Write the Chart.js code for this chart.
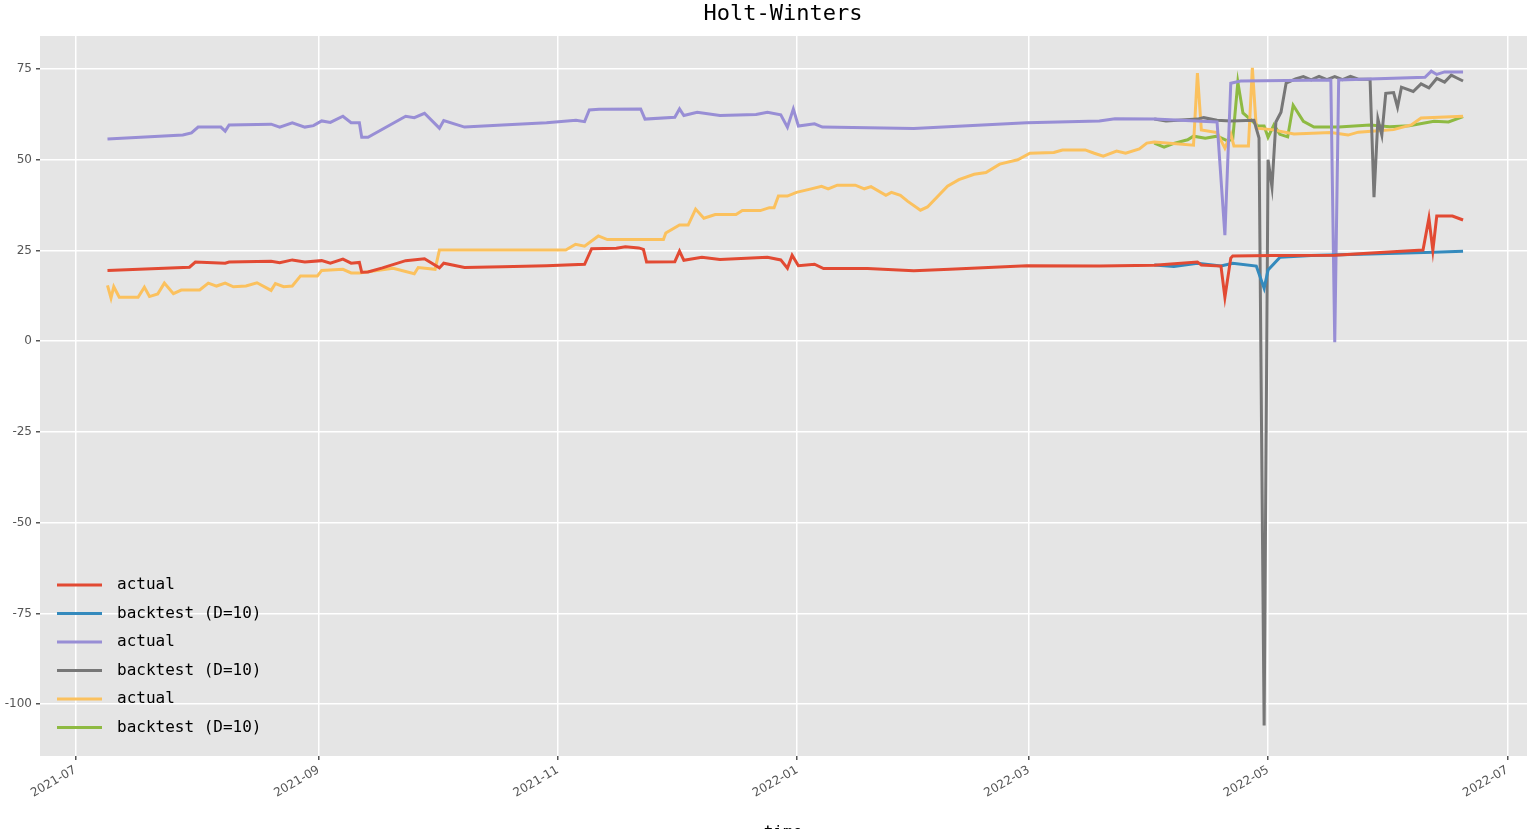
<!DOCTYPE html>
<html><head><meta charset="utf-8">
<script src="https://cdn.jsdelivr.net/npm/chart.js@4"></script>
<style>html,body{margin:0;padding:0;background:#fff}#w{width:1532px;height:829px;position:relative}</style>
</head><body><div id="w"><canvas id="c"></canvas></div>
<script>
// x values: days since 2021-07-01
const tickDays = [0, 62, 123, 184, 243, 304, 365];
const tickLabels = ['2021-07','2021-09','2021-11','2022-01','2022-03','2022-05','2022-07'];
const yTicks = [75, 50, 25, 0, -25, -50, -75, -100];

const actual1Days = [8.2,29.1,30.6,38.2,39.2,49.9,52.1,55.3,58.5,62.8,65,68.2,70.3,72.4,73,74.6,78.3,84.2,89,92.8,93.9,99.2,108.9,120.1,129.8,131.6,137.9,140.2,143.6,144.8,145.6,152.8,154,155.1,159.7,164.3,176.4,179.8,181.5,182.7,184.3,188.4,190.7,201.9,213.7,222.9,242.5,261,275,286,287,292,293,294.5,295,305,321,333.6,343.5,345,346,347,351,353.7];
const actual1 = [19.5,20.4,21.8,21.5,21.8,22,21.6,22.4,21.8,22.2,21.5,22.6,21.5,21.7,19,19.1,20.2,22.2,22.7,20.2,21.5,20.3,20.5,20.8,21.2,25.5,25.6,26,25.7,25.3,21.8,21.9,24.8,22.3,23.1,22.5,23.1,22.4,20.1,23.7,20.8,21.2,20,20,19.4,19.8,20.8,20.7,20.9,21.8,21,20.7,12.1,22.9,23.5,23.6,23.7,24.5,25.1,33.9,25,34.5,34.5,33.4];
const back1Days = [275,280,286,292,295,301,303,304,307,315,330,346,353.7];
const back1 = [21,20.6,21.5,20.7,21.5,20.7,14.6,19.6,23.1,23.6,24,24.5,24.8];

const actual2Days = [8.2,27.4,29.6,31.3,37.1,38.2,39.2,49.9,52.1,55.3,58.5,60.7,62.8,65,68.2,70.3,72.4,73,74.6,84.2,86.4,89,92.8,93.9,99.2,108.9,120.1,127.6,129.8,131,133.5,144.1,145.2,152.8,154,155.1,158.5,164.3,173.5,176.4,179.8,181.5,183,184.3,188.4,190.4,213.7,242.5,261,265,275,291,293,294.5,297,320,321,322,344,345.6,347,349,353.7];
const actual2 = [55.7,56.8,57.4,59,59,57.9,59.6,59.8,59,60.2,59,59.4,60.7,60.3,62,60.2,60.2,56.2,56.2,62,61.6,62.8,58.7,60.8,59,59.6,60.2,60.9,60.5,63.7,63.9,64,61.2,61.7,64,62.2,63.1,62.2,62.5,63.1,62.4,59,64,59.3,59.9,59,58.6,60.2,60.7,61.3,61.2,60.4,29.2,71.1,71.7,72,-0.3,72,72.7,74.4,73.5,74.2,74.2];
const back2Days = [275,278,286,287.6,291,294.5,300.4,301.7,303,304,305,306,307.3,308.6,311,313,315,317,319,321,323,325,327,330,331,332,333,334,336,337,338,341,343,345,347,349,350.7,352,353.7];
const back2 = [61.2,60.7,61.2,61.6,60.9,60.7,60.9,56,-105.9,50,42.5,60.4,63.1,71.1,72.3,72.9,72,73,72.1,72.9,72.1,73,72.2,72.2,39.7,61.2,56.8,68.3,68.5,64.5,70,68.8,70.9,69.8,72.4,71.4,73.3,72.6,71.7];

const actual3Days = [8.2,9.1,9.8,11.2,16,17.6,18.9,21,22.7,25,27,31.7,33.9,36,38.2,40.3,43.5,46.3,49.9,51,53.1,55.3,57.4,61.7,62.8,68.2,70.3,72.4,81,86.4,87.4,91.7,92.8,125,127.5,129.8,133.3,135.6,149.9,150.5,154,156.2,158.1,160.2,163.1,168.4,170,174.6,176.9,178.1,179.2,181.5,183.8,187.3,190.2,191.9,194.2,198.8,201.1,202.8,206.6,208,210.3,212.1,215.4,217.2,222.3,225.2,229.1,232.1,235.6,240.2,243.3,249.4,251.6,257.4,259.7,262,265.4,267.7,271.2,273.1,275,285,286,287,291,293,294.5,295.3,299,300,301,305,310.6,320,324.4,327,332,336,340.5,343,353.7];
const actual3 = [15.4,11.9,15,12.1,12.1,14.9,12.3,13,16,13.1,14.1,14.1,16,15.2,16,15,15.2,16.1,14,15.9,15,15.2,18,18,19.5,19.8,18.8,18.8,20.1,18.6,20.3,19.8,25.1,25.1,26.7,26.2,29,28,28,29.8,32,32,36.4,33.9,34.9,34.9,36,36,36.8,36.8,40,40,41,41.9,42.7,42,43,43,42,42.6,40.2,41,40.2,38.6,36.1,37,42.7,44.5,46,46.5,48.8,50,51.8,52,52.7,52.7,51.8,51,52.4,51.8,53,54.6,54.9,54,73.9,58.2,57.5,53.2,57.1,53.8,53.8,75.3,58.7,58.3,57.1,57.5,56.8,57.6,58,58.3,59.6,61.5,62];
const back3Days = [275,277.5,280,283.5,285,288,291,293.7,295,296.3,297.6,301.4,303,304,305.5,307,309,310.4,313,315.7,322,330,335,340,346.3,350,353.7];
const back3 = [54.6,53.5,54.5,55.5,56.5,55.9,56.5,55.2,55.7,71.4,62.9,59.3,59.3,56.2,59.6,57,56.3,65,60.6,59,59,59.6,59.1,59.4,60.6,60.4,61.9];

const mk = (d, v) => d.map((x, i) => ({x, y: v[i]}));
const series = [
  {label:'actual', d:actual1Days, v:actual1, c:'#E24A33'},
  {label:'backtest (D=10)', d:back1Days, v:back1, c:'#348ABD'},
  {label:'actual', d:actual2Days, v:actual2, c:'#988ED5'},
  {label:'backtest (D=10)', d:back2Days, v:back2, c:'#777777'},
  {label:'actual', d:actual3Days, v:actual3, c:'#FBC15E'},
  {label:'backtest (D=10)', d:back3Days, v:back3, c:'#8EBA42'},
];
const FONT = "'DejaVu Sans Mono', monospace";

const deco = {
  id:'deco',
  beforeDraw(ch){
    const {ctx, chartArea:a} = ch;
    ctx.save(); ctx.fillStyle='#E5E5E5';
    ctx.fillRect(a.left, a.top, a.right-a.left, a.bottom-a.top); ctx.restore();
  },
  afterDraw(ch){
    const ctx = ch.ctx;
    ctx.save();
    ctx.fillStyle='#000'; ctx.font='22px '+FONT; ctx.textAlign='center'; ctx.textBaseline='middle';
    ctx.fillText('Holt-Winters', 783, 14);
    ctx.font='16px '+FONT; ctx.textAlign='left';
    series.forEach((s,i)=>{
      const y = 585 + i*28.5;
      ctx.strokeStyle=s.c; ctx.lineWidth=3;
      ctx.beginPath(); ctx.moveTo(57,y); ctx.lineTo(102,y); ctx.stroke();
      ctx.fillStyle='#000'; ctx.fillText(s.label, 117, y);
    });
    ctx.textAlign='center'; ctx.textBaseline='alphabetic';
    ctx.fillText('time', 783, 837);
    ctx.restore();
  }
};

new Chart(document.getElementById('c'), {
  type:'line',
  data:{datasets: series.map(s=>({label:s.label, data:mk(s.d,s.v), borderColor:s.c, backgroundColor:s.c, borderWidth:3, pointRadius:0, tension:0}))},
  options:{
    responsive:true, maintainAspectRatio:false, animation:false,
    layout:{padding:{top:36, right:5, left:0, bottom:0}},
    plugins:{legend:{display:false}, title:{display:false}, tooltip:{enabled:false}},
    scales:{
      x:{type:'linear', min:-9, max:370,
        afterBuildTicks(ax){ ax.ticks = tickDays.map(v=>({value:v})); },
        afterFit(ax){ ax.height = 73; },
        ticks:{autoSkip:false, minRotation:30, maxRotation:30, color:'#555', font:{size:12, family:"'DejaVu Sans'"},
          callback:(v)=>tickLabels[tickDays.indexOf(v)]},
        grid:{color:'#fff', lineWidth:1.5, tickLength:4, tickColor:'#555'}, border:{display:false}},
      y:{min:-114.3, max:84.1,
        afterBuildTicks(ax){ ax.ticks = yTicks.map(v=>({value:v})); },
        afterFit(ax){ ax.width = 40; },
        ticks:{color:'#555', font:{size:12, family:"'DejaVu Sans'"}, padding:4},
        grid:{color:'#fff', lineWidth:1.5, tickLength:4, tickColor:'#555'}, border:{display:false}}
    }
  },
  plugins:[deco]
});
</script></body></html>
